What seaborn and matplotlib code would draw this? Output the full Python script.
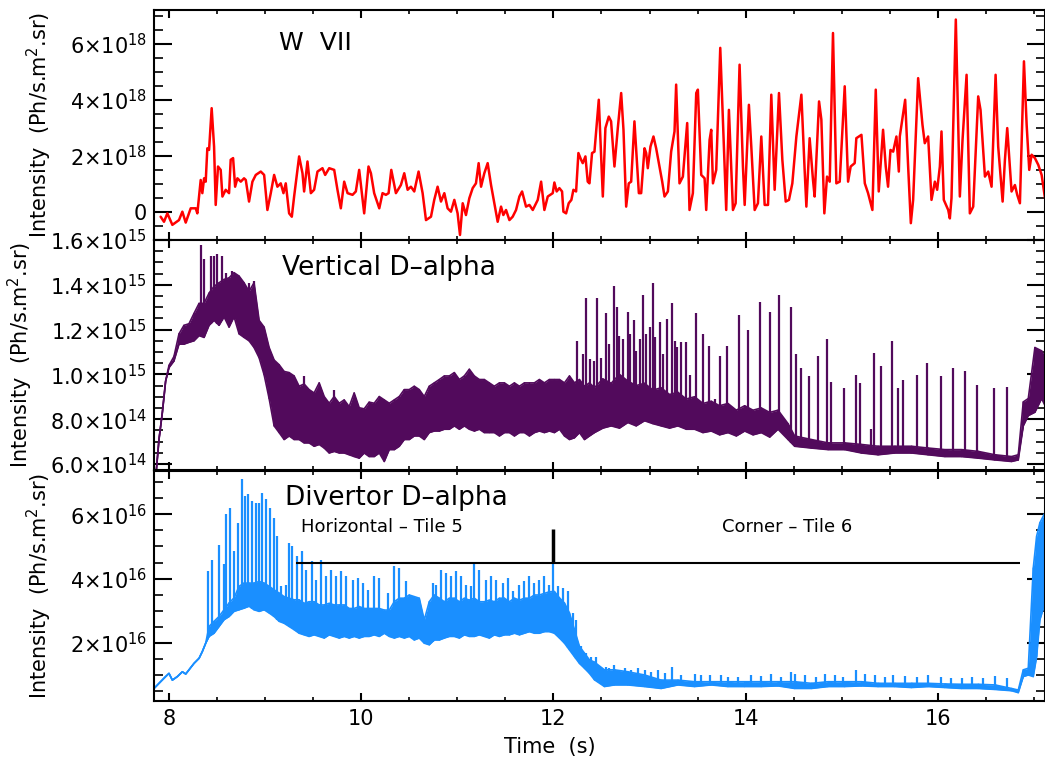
import numpy as np
import matplotlib
matplotlib.use("Agg")
import matplotlib.pyplot as plt
from matplotlib.ticker import FixedLocator, MultipleLocator
import seaborn as sns

# ---------------- W VII (units of 1e18 Ph/s.m2.sr) ----------------
wvii_t = [7.913, 7.948, 7.983, 8.035, 8.104, 8.139, 8.174, 8.226, 8.278, 8.295,
          8.330, 8.347, 8.365, 8.382, 8.399, 8.417, 8.444, 8.469, 8.486, 8.510,
          8.538, 8.556, 8.590, 8.625, 8.642, 8.667, 8.688, 8.712, 8.747, 8.781,
          8.799, 8.833, 8.868, 8.903, 8.955, 8.990, 9.024, 9.059, 9.094, 9.128,
          9.163, 9.191, 9.215, 9.250, 9.278, 9.302, 9.354, 9.389, 9.406, 9.441,
          9.476, 9.510, 9.545, 9.597, 9.625, 9.667, 9.719, 9.753, 9.788, 9.823,
          9.858, 9.910, 9.944, 9.979, 10.031, 10.076, 10.101, 10.135, 10.188, 10.222,
          10.257, 10.285, 10.313, 10.361, 10.413, 10.448, 10.483, 10.517, 10.552, 10.597,
          10.639, 10.674, 10.726, 10.760, 10.795, 10.830, 10.865, 10.899, 10.934, 10.969,
          11.003, 11.028, 11.056, 11.090, 11.125, 11.160, 11.194, 11.222, 11.247, 11.281,
          11.316, 11.351, 11.385, 11.420, 11.455, 11.479, 11.507, 11.542, 11.576, 11.611,
          11.646, 11.674, 11.715, 11.750, 11.785, 11.819, 11.837, 11.872, 11.906, 11.941,
          11.993, 12.010, 12.034, 12.062, 12.090, 12.104, 12.132, 12.159, 12.187, 12.208,
          12.236, 12.260, 12.288, 12.305, 12.333, 12.357, 12.375, 12.402, 12.427, 12.472,
          12.514, 12.541, 12.576, 12.600, 12.635, 12.670, 12.705, 12.729, 12.757, 12.784,
          12.809, 12.843, 12.889, 12.913, 12.948, 12.965, 12.982, 13.010, 13.041, 13.069,
          13.104, 13.132, 13.156, 13.191, 13.225, 13.260, 13.277, 13.312, 13.347, 13.392,
          13.416, 13.451, 13.486, 13.503, 13.538, 13.573, 13.590, 13.625, 13.642, 13.660,
          13.694, 13.736, 13.771, 13.798, 13.826, 13.868, 13.896, 13.937, 13.972, 13.990,
          14.034, 14.059, 14.094, 14.128, 14.163, 14.198, 14.233, 14.267, 14.302, 14.347,
          14.382, 14.417, 14.451, 14.486, 14.528, 14.580, 14.614, 14.632, 14.666, 14.701,
          14.718, 14.764, 14.788, 14.819, 14.847, 14.875, 14.909, 14.944, 14.979, 15.031,
          15.066, 15.093, 15.135, 15.152, 15.205, 15.240, 15.274, 15.319, 15.354, 15.385,
          15.430, 15.458, 15.482, 15.507, 15.535, 15.569, 15.594, 15.604, 15.660, 15.691,
          15.719, 15.743, 15.795, 15.840, 15.864, 15.899, 15.934, 15.969, 15.993, 16.021,
          16.038, 16.062, 16.108, 16.125, 16.142, 16.187, 16.229, 16.257, 16.299, 16.333,
          16.368, 16.420, 16.444, 16.490, 16.524, 16.559, 16.601, 16.628, 16.674, 16.698,
          16.722, 16.767, 16.802, 16.826, 16.854, 16.896, 16.924, 16.951, 16.976, 17.010,
          17.045, 17.080, 17.115]
wvii_v = [-0.17, -0.35, -0.05, -0.46, -0.29, 0.01, -0.38, 0.13, 0.13, -0.05,
          1.14, 0.67, 1.20, 1.08, 2.27, 2.21, 3.70, 2.33, 0.25, 1.62,
          1.50, 0.55, 0.79, 0.67, 1.86, 1.92, 0.90, 1.20, 1.08, 1.20,
          1.14, 0.37, 1.08, 1.32, 1.44, 1.32, 0.07, 0.67, 1.32, 0.90,
          1.02, 0.67, 1.02, -0.05, -0.17, 0.55, 1.98, 1.38, 0.73, 1.80,
          0.67, 0.79, 1.44, 1.56, 1.32, 1.56, 1.50, 0.79, 0.13, 1.08,
          0.67, 0.61, 0.73, 1.50, -0.05, 1.62, 1.38, 0.67, 0.13, 0.67,
          0.61, 0.67, 1.50, 0.67, 0.96, 1.38, 0.79, 0.90, 0.73, 1.44,
          0.67, -0.29, -0.17, 0.43, 0.90, 0.37, 0.67, 0.13, 0.01, 0.43,
          -0.05, -0.82, 0.31, -0.11, 0.49, 0.85, 1.02, 1.74, 0.90, 1.38,
          1.74, 0.96, 0.31, -0.35, 0.19, -0.11, 0.07, -0.29, -0.17, 0.07,
          0.55, 0.73, 0.19, 0.25, 0.07, 0.31, 0.43, 1.08, 0.07, 0.55,
          0.67, 1.05, 0.73, 0.85, 0.73, 0.01, -0.05, 0.31, 0.43, 0.79,
          0.73, 2.10, 1.86, 1.74, 1.98, 1.08, 1.02, 2.10, 2.15, 4.00,
          0.55, 2.99, 3.40, 3.23, 1.62, 2.99, 4.24, 2.93, 0.19, 1.02,
          1.08, 3.23, 0.67, 0.67, 2.27, 2.10, 1.56, 2.33, 2.69, 2.27,
          1.62, 1.08, 0.55, 0.73, 2.15, 2.87, 4.54, 1.02, 1.26, 3.17,
          0.07, 0.67, 4.24, 4.36, 1.32, 1.20, 0.07, 2.57, 2.93, 1.02,
          1.50, 5.85, 2.57, 0.07, 3.64, 0.07, 0.31, 5.25, 1.62, 0.25,
          3.82, 2.33, 0.07, 0.31, 2.69, 0.25, 0.25, 4.18, 0.79, 4.24,
          1.86, 0.37, 0.43, 1.02, 2.69, 4.18, 1.50, 0.19, 2.63, 1.14,
          0.55, 3.94, 3.29, -0.05, 1.26, 1.08, 6.38, 1.02, 1.08, 4.48,
          1.08, 1.62, 1.74, 2.63, 2.75, 1.02, 0.67, 0.07, 4.36, 0.73,
          2.93, 1.62, 0.90, 2.21, 2.15, 2.69, 1.44, 2.69, 4.00, 1.62,
          -0.40, 0.43, 4.77, 3.11, 2.45, 2.69, 0.43, 1.08, 0.79, 1.62,
          2.87, 0.43, 0.07, -0.23, 0.49, 6.86, 0.55, 2.57, 4.89, -0.05,
          0.19, 4.12, 3.64, 1.26, 1.44, 0.90, 4.89, 2.33, 0.37, 1.86,
          2.99, 0.73, 0.96, 0.61, 0.31, 5.37, 3.11, 1.50, 2.04, 1.92,
          1.68, 1.32, 0.49]

# ---------------- Vertical D-alpha (units of 1e15) ----------------
vd_t = [7.850, 7.870, 7.896, 7.931, 7.965, 8.000, 8.052,
        8.104, 8.156, 8.208, 8.260, 8.313, 8.365, 8.417, 8.469, 8.521, 8.573,
        8.625, 8.677, 8.729, 8.781, 8.833, 8.885, 8.938, 8.990, 9.042, 9.094,
        9.146, 9.198, 9.250, 9.302, 9.354, 9.406, 9.458, 9.510, 9.563, 9.615,
        9.667, 9.719, 9.771, 9.823, 9.875, 9.927, 9.979, 10.031, 10.083, 10.135,
        10.188, 10.240, 10.292, 10.344, 10.396, 10.448, 10.500, 10.552, 10.604, 10.656,
        10.708, 10.760, 10.813, 10.865, 10.917, 10.969, 11.021, 11.073, 11.125, 11.177,
        11.229, 11.281, 11.333, 11.385, 11.438, 11.490, 11.542, 11.594, 11.646, 11.698,
        11.750, 11.802, 11.854, 11.906, 11.958, 12.010, 12.063, 12.115, 12.167, 12.219,
        12.271, 12.323, 12.375,
        12.427, 12.514, 12.601, 12.687, 12.774, 12.861, 12.948, 13.035, 13.121, 13.208,
        13.295, 13.382, 13.469, 13.556, 13.642, 13.729, 13.816, 13.903, 13.990, 14.077,
        14.163, 14.250, 14.337, 14.441, 14.510, 14.684, 14.858, 15.031, 15.205, 15.378,
        15.552, 15.726, 15.899, 16.073, 16.247, 16.420, 16.594, 16.767, 16.837, 16.889,
        16.941, 17.010, 17.080, 17.115]
vd_lo = [0.50, 0.58, 0.71, 0.83, 0.97, 1.03, 1.06,
         1.135, 1.135, 1.143, 1.150, 1.173, 1.165, 1.219, 1.241, 1.219, 1.257,
         1.211, 1.257, 1.181, 1.165, 1.150, 1.120, 1.074, 0.998, 0.892, 0.770,
         0.740, 0.709, 0.725, 0.709, 0.709, 0.694, 0.694, 0.679, 0.687, 0.671,
         0.649, 0.656, 0.649, 0.649, 0.641, 0.633, 0.626, 0.649, 0.633, 0.633,
         0.649, 0.611, 0.664, 0.664, 0.679, 0.709, 0.709, 0.725, 0.725, 0.709,
         0.740, 0.747, 0.747, 0.755, 0.755, 0.770, 0.755, 0.770, 0.755, 0.747,
         0.755, 0.740, 0.740, 0.740, 0.725, 0.740, 0.740, 0.725, 0.740, 0.740,
         0.725, 0.740, 0.747, 0.740, 0.747, 0.740, 0.755, 0.725, 0.709, 0.717,
         0.740, 0.709, 0.725,
         0.740, 0.760, 0.770, 0.760, 0.785, 0.770, 0.793, 0.780, 0.770, 0.760,
         0.770, 0.755, 0.755, 0.740, 0.747, 0.730, 0.740, 0.725, 0.747, 0.730,
         0.740, 0.720, 0.755, 0.709, 0.679, 0.671, 0.664, 0.664, 0.649, 0.641,
         0.649, 0.649, 0.641, 0.633, 0.633, 0.626, 0.618, 0.611, 0.618, 0.770,
         0.816, 0.831, 0.892, 0.861]
vd_hi = [0.50, 0.58, 0.71, 0.83, 0.97, 1.04, 1.08,
         1.181, 1.219, 1.226, 1.272, 1.317, 1.317, 1.363, 1.393, 1.409, 1.424,
         1.431, 1.454, 1.439, 1.409, 1.371, 1.409, 1.241, 1.211, 1.120, 1.064,
         1.043, 1.013, 1.008, 0.993, 0.947, 0.957, 0.932, 0.917, 0.962, 0.901,
         0.871, 0.901, 0.871, 0.886, 0.856, 0.917, 0.851, 0.846, 0.876, 0.871,
         0.901, 0.886, 0.871, 0.886, 0.901, 0.932, 0.932, 0.947, 0.932, 0.901,
         0.947, 0.962, 0.977, 0.993, 0.993, 1.008, 0.977, 0.993, 1.023, 0.993,
         0.977, 0.977, 0.962, 0.947, 0.962, 0.962, 0.947, 0.962, 0.947, 0.962,
         0.962, 0.962, 0.977, 0.962, 0.977, 0.977, 0.977, 0.962, 0.993, 0.962,
         0.977, 0.947, 0.962,
         0.940, 0.980, 0.960, 1.000, 0.970, 0.950, 0.960, 0.930, 0.940, 0.910,
         0.920, 0.890, 0.900, 0.870, 0.880, 0.860, 0.870, 0.840, 0.860, 0.840,
         0.850, 0.830, 0.840, 0.780, 0.725, 0.709, 0.694, 0.694, 0.687, 0.679,
         0.679, 0.679, 0.671, 0.664, 0.664, 0.656, 0.641, 0.633, 0.641, 0.877,
         0.892, 1.120, 1.105, 1.074]
vd_spike_t = [8.330, 8.365, 8.434, 8.469, 8.503, 8.549, 8.590, 8.660, 8.833, 8.885,
              9.406, 9.719, 11.142, 12.243, 12.306, 12.340, 12.382, 12.427,
              12.455, 12.496, 12.549, 12.583, 12.635, 12.663, 12.687, 12.722, 12.774, 12.792,
              12.837, 12.861, 12.896, 12.930, 12.965, 13.000, 13.035, 13.062, 13.104, 13.139,
              13.184, 13.236, 13.260, 13.288, 13.330, 13.382, 13.417, 13.479, 13.555, 13.615,
              13.677, 13.729, 13.809, 13.927, 14.024, 14.146, 14.257, 14.347, 14.476, 14.521,
              14.580, 14.660, 14.753, 14.851, 14.892, 15.024, 15.153, 15.194, 15.302, 15.337,
              15.413, 15.528, 15.587, 15.639, 15.778, 15.882, 16.031, 16.160, 16.281, 16.403,
              16.587, 16.722]
vd_spike_v = [1.576, 1.515, 1.530, 1.530, 1.538, 1.530, 1.454, 1.462, 1.409, 1.416,
              0.991, 0.930, 0.991, 1.150, 1.089, 1.340, 1.067, 1.059,
              1.340, 1.074, 1.272, 1.135, 1.393, 1.302, 1.173, 1.158, 1.279, 1.181,
              1.241, 1.105, 1.158, 1.355, 1.181, 1.211, 1.409, 1.165, 1.234, 1.089,
              1.249, 1.317, 1.150, 1.120, 1.143, 1.143, 0.998, 1.272, 1.181, 1.127,
              0.892, 1.082, 1.127, 1.264, 1.196, 1.325, 1.279, 1.355, 1.302, 1.089,
              1.029, 0.991, 1.082, 1.158, 0.968, 0.937, 0.998, 0.960, 0.755, 1.097,
              1.036, 1.150, 0.937, 0.975, 0.998, 1.051, 0.991, 1.029, 1.013, 0.953,
              0.937, 0.945]

# ---------------- Divertor D-alpha (units of 1e16) ----------------
dd_t = [7.844, 7.896, 7.965, 8.000, 8.035, 8.087, 8.139, 8.174, 8.208, 8.260,
        8.313, 8.347, 8.382,
        8.417, 8.469, 8.521, 8.573, 8.625, 8.677, 8.729, 8.781, 8.833, 8.885,
        8.938, 8.990, 9.042, 9.094, 9.146, 9.198, 9.250, 9.302, 9.354, 9.406,
        9.458, 9.510, 9.563, 9.615, 9.667, 9.719, 9.771, 9.823, 9.875, 9.927,
        9.979, 10.031, 10.083, 10.135, 10.188, 10.240, 10.292, 10.344, 10.396, 10.448,
        10.500, 10.552, 10.604, 10.656, 10.708, 10.760, 10.813, 10.865, 10.917, 10.969,
        11.021, 11.073, 11.125, 11.177, 11.229, 11.281, 11.333, 11.385, 11.438, 11.490,
        11.542, 11.594, 11.646, 11.698, 11.750, 11.802, 11.854, 11.906, 11.958, 12.010,
        12.063, 12.115, 12.167, 12.219, 12.271, 12.323, 12.375, 12.427,
        12.531, 12.635, 12.774, 12.948, 13.121, 13.295, 13.469, 13.642, 13.816, 13.990,
        14.163, 14.337, 14.510, 14.684, 14.858, 15.031, 15.205, 15.378, 15.552, 15.726,
        15.899, 16.073, 16.247, 16.420, 16.594, 16.767, 16.837, 16.889, 16.941, 16.993,
        17.028, 17.062, 17.115]
dd_lo = [0.58, 0.74, 0.95, 1.05, 0.84, 0.95, 1.10, 1.03, 1.16, 1.36,
         1.52, 1.73, 1.99,
         2.20, 2.30, 2.51, 2.72, 2.82, 2.98, 3.03, 3.08, 3.14, 3.03,
         2.98, 3.03, 2.93, 2.82, 2.67, 2.61, 2.51, 2.41, 2.30, 2.25,
         2.20, 2.25, 2.20, 2.15, 2.25, 2.20, 2.15, 2.20, 2.15, 2.20,
         2.15, 2.20, 2.20, 2.25, 2.20, 2.30, 2.20, 2.15, 2.20, 2.15,
         2.20, 2.09, 2.15, 1.99, 1.94, 2.09, 2.09, 2.15, 2.20, 2.20,
         2.15, 2.25, 2.20, 2.20, 2.25, 2.20, 2.15, 2.25, 2.20, 2.25,
         2.25, 2.30, 2.25, 2.30, 2.35, 2.30, 2.30, 2.35, 2.35, 2.30,
         2.15, 1.99, 1.78, 1.57, 1.36, 1.21, 1.05, 0.85,
         0.64, 0.69, 0.69, 0.64, 0.58, 0.69, 0.64, 0.69, 0.64, 0.64,
         0.64, 0.66, 0.58, 0.58, 0.64, 0.64, 0.66, 0.64, 0.64, 0.61,
         0.64, 0.61, 0.58, 0.58, 0.55, 0.51, 0.45, 0.95, 1.00, 0.95,
         1.57, 2.72, 3.24]
dd_hi = [0.58, 0.74, 0.95, 1.05, 0.84, 0.95, 1.10, 1.03, 1.16, 1.36,
         1.52, 1.73, 1.99,
         2.51, 2.67, 2.82, 3.03, 3.24, 3.40, 3.76, 3.86, 3.86, 3.86,
         3.91, 3.86, 3.76, 3.65, 3.55, 3.44, 3.39, 3.34, 3.34, 3.23,
         3.28, 3.28, 3.18, 3.18, 3.23, 3.18, 3.18, 3.18, 3.07, 3.07,
         3.13, 3.07, 3.07, 3.07, 3.07, 3.02, 3.02, 3.28, 3.39, 3.39,
         3.49, 3.44, 3.39, 2.71, 3.28, 3.49, 3.39, 3.28, 3.39, 3.39,
         3.28, 3.39, 3.33, 3.39, 3.28, 3.28, 3.33, 3.28, 3.39, 3.39,
         3.28, 3.39, 3.33, 3.39, 3.39, 3.49, 3.49, 3.54, 3.59, 3.60,
         3.40, 3.24, 2.93, 2.41, 1.89, 1.68, 1.47, 1.40,
         1.16, 1.16, 1.10, 1.00, 0.84, 0.84, 0.79, 0.79, 0.79, 0.79,
         0.79, 0.79, 0.79, 0.74, 0.79, 0.79, 0.79, 0.74, 0.74, 0.74,
         0.74, 0.72, 0.71, 0.71, 0.69, 0.58, 0.53, 1.16, 1.21, 4.33,
         5.32, 5.74, 6.05]
dd_spike_t = [8.410, 8.451, 8.521, 8.573, 8.597, 8.632, 8.677, 8.722, 8.764, 8.792,
              8.826, 8.868, 8.903, 8.938, 8.965, 9.007, 9.049, 9.094, 9.128, 9.163,
              9.215, 9.250, 9.278, 9.337, 9.382, 9.424, 9.493, 9.528, 9.580, 9.632,
              9.684, 9.736, 9.788, 9.840, 9.910, 9.962, 10.014, 10.066, 10.135, 10.188,
              10.274, 10.344, 10.396, 10.465, 10.535, 10.587, 10.743, 10.778, 10.830, 10.882,
              10.934, 10.986, 11.038, 11.090, 11.142, 11.177, 11.229, 11.299, 11.351, 11.403,
              11.472, 11.524, 11.576, 11.646, 11.698, 11.750, 11.802, 11.854, 11.906, 11.958,
              11.993, 12.045, 12.097, 12.149, 12.201, 12.236, 12.288, 12.340, 12.392,
              12.444, 12.496, 12.549, 12.583, 12.635, 12.687, 12.740, 12.809, 12.878, 12.948,
              13.017, 13.087, 13.156, 13.233, 13.330, 13.469, 13.538, 13.625, 13.746, 13.816,
              13.920, 14.059, 14.163, 14.267, 14.371, 14.476, 14.510, 14.615, 14.736, 14.823,
              14.927, 15.014, 15.153, 15.240, 15.344, 15.448, 15.535, 15.656, 15.778, 15.899,
              16.038, 16.142, 16.247, 16.351, 16.472, 16.594, 16.715]
dd_spike_v = [4.23, 4.59, 5.06, 4.44, 6.00, 6.21, 4.85, 5.74, 7.09, 6.57,
              6.63, 6.42, 6.36, 6.36, 6.68, 6.47, 6.21, 5.90, 5.32, 3.76,
              3.81, 5.11, 5.01, 4.70, 4.85, 4.28, 4.54, 3.97, 4.59, 4.07,
              4.28, 4.07, 4.23, 4.07, 3.97, 4.02, 3.86, 3.66, 4.07, 4.02,
              3.55, 4.39, 4.33, 3.92, 3.45, 3.29, 3.86, 3.81, 4.28, 4.18,
              4.07, 4.23, 4.07, 3.81, 3.76, 4.44, 4.28, 3.97, 4.07, 3.97,
              3.86, 4.02, 3.60, 3.81, 3.92, 4.07, 3.86, 3.97, 4.07, 3.81,
              4.44, 3.76, 3.71, 3.60, 2.93, 2.72, 1.89, 1.68, 1.57,
              1.57, 1.26, 1.26, 1.21, 1.31, 1.16, 1.21, 1.16, 1.21, 1.16,
              1.10, 1.16, 1.05, 1.26, 1.00, 1.03, 1.00, 1.00, 1.00, 0.95,
              0.95, 1.00, 0.97, 1.03, 0.95, 1.10, 1.03, 1.00, 0.95, 1.03,
              1.00, 0.95, 1.16, 1.03, 1.00, 0.95, 1.00, 0.97, 0.95, 1.00,
              0.95, 0.90, 0.90, 0.95, 0.90, 0.97, 0.90]

# annotation values (divertor panel, units 1e16 / s)
tile_line_t = [9.32, 16.86]
tile_line_v = 4.5
tile_split_t = 12.0
tile_split_top = 5.56
tile_labels = ["Horizontal \u2013 Tile 5", "Corner \u2013 Tile 6"]
tile_label_t = [10.22, 14.43]
tile_label_v = 5.62

x_major = [8, 10, 12, 14, 16]
wvii_ticks = [0, 2, 4, 6]
wvii_labels = ["0", r"2$\times$10$^{18}$", r"4$\times$10$^{18}$", r"6$\times$10$^{18}$"]
vd_ticks = [0.6, 0.8, 1.0, 1.2, 1.4, 1.6]
vd_labels = [r"6.0$\times$10$^{14}$", r"8.0$\times$10$^{14}$", r"1.0$\times$10$^{15}$",
             r"1.2$\times$10$^{15}$", r"1.4$\times$10$^{15}$", r"1.6$\times$10$^{15}$"]
dd_ticks = [2, 4, 6]
dd_labels = [r"2$\times$10$^{16}$", r"4$\times$10$^{16}$", r"6$\times$10$^{16}$"]

RED = "#ff0000"
PURPLE = "#520a5c"
BLUE = "#1a8fff"

sns.set_style("ticks")
plt.rcParams["font.family"] = ["DejaVu Sans"]
plt.rcParams["mathtext.fontset"] = "dejavusans"
for key in ["text.color", "axes.labelcolor", "xtick.color", "ytick.color", "axes.edgecolor"]:
    plt.rcParams[key] = "black"

fig = plt.figure(figsize=(10.45, 7.73), dpi=100)
L, W, H = 154 / 1045, 891 / 1045, 230 / 773
ax1 = fig.add_axes([L, 1 - 240 / 773, W, H])
ax2 = fig.add_axes([L, 1 - 470 / 773, W, H], sharex=ax1)
ax3 = fig.add_axes([L, 1 - 701 / 773, W, H], sharex=ax1)

# W VII
sns.lineplot(x=wvii_t, y=wvii_v, ax=ax1, color=RED, lw=1.8, sort=False, estimator=None)


def band(ax, t, lo, hi, color):
    t, lo, hi = np.asarray(t), np.asarray(lo), np.asarray(hi)
    ax.fill_between(t, lo, hi, color=color, lw=0)
    zig_t = np.repeat(t, 2)
    zig_v = np.column_stack([lo, hi]).ravel()
    sns.lineplot(x=zig_t, y=zig_v, ax=ax, color=color, lw=1.0, sort=False, estimator=None)
    sns.lineplot(x=t, y=lo, ax=ax, color=color, lw=1.2, sort=False, estimator=None)
    sns.lineplot(x=t, y=hi, ax=ax, color=color, lw=1.2, sort=False, estimator=None)
    return t, lo


vt, vlo = band(ax2, vd_t, vd_lo, vd_hi, PURPLE)
ax2.vlines(vd_spike_t, np.interp(vd_spike_t, vt, vlo), vd_spike_v, color=PURPLE, lw=1.6)

dt, dlo = band(ax3, dd_t, dd_lo, dd_hi, BLUE)
ax3.vlines(dd_spike_t, np.interp(dd_spike_t, dt, dlo), dd_spike_v, color=BLUE, lw=1.6)

# annotations
ax3.hlines(tile_line_v, tile_line_t[0], tile_line_t[1], color="black", lw=1.5)
ax3.vlines(tile_split_t, tile_line_v, tile_split_top, color="black", lw=2.5)
for lab, tx in zip(tile_labels, tile_label_t):
    ax3.text(tx, tile_label_v, lab, ha="center", va="center", fontsize=13, color="black")

ax1.text(0.14, 0.857, "W  VII", transform=ax1.transAxes, fontsize=18, va="center")
ax2.text(0.144, 0.878, "Vertical D\u2013alpha", transform=ax2.transAxes, fontsize=19, va="center")
ax3.text(0.147, 0.883, "Divertor D\u2013alpha", transform=ax3.transAxes, fontsize=19, va="center")


def style(ax, ylim, ticks, labels, minor, label_x):
    ax.set_ylim(*ylim)
    ax.yaxis.set_major_locator(FixedLocator(ticks))
    ax.set_yticklabels(labels)
    ax.yaxis.set_minor_locator(MultipleLocator(minor))
    ax.set_xlim(7.844, 17.115)
    ax.xaxis.set_major_locator(FixedLocator(x_major))
    ax.xaxis.set_minor_locator(MultipleLocator(0.5))
    ax.tick_params(axis="y", which="major", direction="in", length=13, width=1.5,
                   left=True, right=True, labelsize=15, pad=5, colors="black")
    ax.tick_params(axis="y", which="minor", direction="in", length=6.5, width=1.2,
                   left=True, right=True, colors="black")
    ax.tick_params(axis="x", which="major", direction="in", length=6, width=1.5,
                   top=True, bottom=True, labelsize=15, pad=6, colors="black")
    ax.tick_params(axis="x", which="minor", direction="in", length=3, width=1.2,
                   top=True, bottom=True, colors="black")
    for s in ax.spines.values():
        s.set_visible(True)
        s.set_linewidth(1.5)
        s.set_color("black")
    ax.set_ylabel("Intensity  (Ph/s.m$^2$.sr)", fontsize=15, color="black")
    ax.yaxis.set_label_coords(label_x, 0.5)
    ax.set_xlabel("")


style(ax1, (-1.0, 7.2), wvii_ticks, wvii_labels, 0.5, -0.112)
style(ax2, (0.573, 1.6), vd_ticks, vd_labels, 0.05, -0.134)
style(ax3, (0.19, 7.35), dd_ticks, dd_labels, 0.5, -0.112)
ax1.tick_params(axis="x", labelbottom=False)
ax2.tick_params(axis="x", labelbottom=False)
ax3.set_xticks(x_major)
ax3.set_xticklabels([str(v) for v in x_major])
ax3.set_xlabel("Time  (s)", fontsize=15, color="black")
ax3.xaxis.set_label_coords(0.444, -0.155)

fig.savefig("out.png", dpi=100)
